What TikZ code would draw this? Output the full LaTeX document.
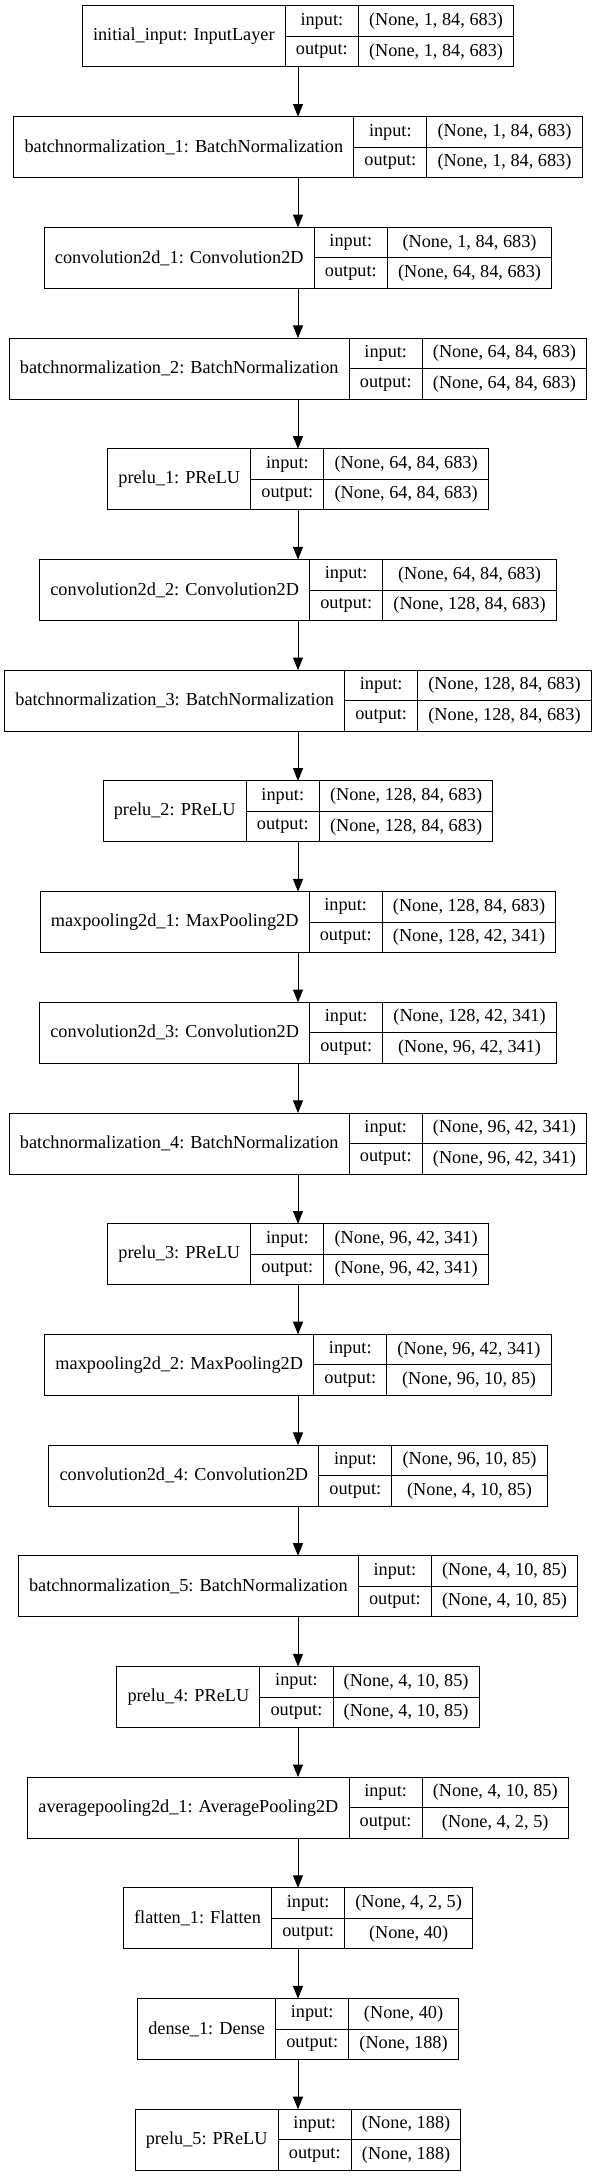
\documentclass[tikz,border=0pt]{standalone}
\usepackage{fontspec}
\setmainfont{Liberation Serif}
\usetikzlibrary{arrows.meta}

\newlength\lblw
\newlength\iow
\newlength\shpw
\newlength\tmpw
\newlength\totw
\newcommand{\layerfont}{\fontsize{13.7pt}{16pt}\selectfont}
\newcommand{\textwd}[2]{\settowidth{#1}{\pgfinterruptpicture\layerfont #2\endpgfinterruptpicture}}

% one layer record: name, top, label, input shape, output shape
\newcommand{\kerasLayer}[5]{%
  \textwd{\lblw}{#3}\addtolength{\lblw}{16pt}%
  \textwd{\iow}{output:}\addtolength{\iow}{16pt}%
  \textwd{\shpw}{#4}%
  \textwd{\tmpw}{#5}%
  \ifdim\tmpw>\shpw \setlength{\shpw}{\tmpw}\fi
  \addtolength{\shpw}{16pt}%
  \setlength{\totw}{\dimexpr\lblw+\iow+\shpw\relax}%
  \node[record, minimum width=\totw, anchor=north] (#1) at (298,#2) {};
  \node[cell, minimum width=\lblw, minimum height=45.75pt, anchor=north west] (#1-name) at (#1.north west) {#3};
  \node[cell, minimum width=\iow, anchor=north west] (#1-in) at (#1-name.north east) {input:};
  \node[cell, minimum width=\iow, anchor=north west] (#1-out) at (#1-in.south west) {output:};
  \node[cell, minimum width=\shpw, anchor=north west] (#1-inshape) at (#1-in.north east) {#4};
  \node[cell, minimum width=\shpw, anchor=north west] (#1-outshape) at (#1-out.north east) {#5};
}

\begin{document}
\begin{tikzpicture}[x=0.75pt, y=-0.75pt,
    record/.style={draw, line width=0.75pt, minimum height=45.75pt, inner sep=0pt, outer sep=0pt},
    cell/.style={draw, line width=0.75pt, minimum height=22.875pt, inner sep=0pt, outer sep=0pt, font=\layerfont},
    edge/.style={line width=0.75pt, -{Triangle[length=9.5pt, width=7.5pt]}}]
  \useasboundingbox (0,0) rectangle (596,2176);

  % Layers
  \foreach \nm/\lbl/\ins/\outs [count=\i from 0] in {
      init/{initial\_input: InputLayer}/{(None, 1, 84, 683)}/{(None, 1, 84, 683)},
      bn1/{batchnormalization\_1: BatchNormalization}/{(None, 1, 84, 683)}/{(None, 1, 84, 683)},
      conv1/{convolution2d\_1: Convolution2D}/{(None, 1, 84, 683)}/{(None, 64, 84, 683)},
      bn2/{batchnormalization\_2: BatchNormalization}/{(None, 64, 84, 683)}/{(None, 64, 84, 683)},
      prelu1/{prelu\_1: PReLU}/{(None, 64, 84, 683)}/{(None, 64, 84, 683)},
      conv2/{convolution2d\_2: Convolution2D}/{(None, 64, 84, 683)}/{(None, 128, 84, 683)},
      bn3/{batchnormalization\_3: BatchNormalization}/{(None, 128, 84, 683)}/{(None, 128, 84, 683)},
      prelu2/{prelu\_2: PReLU}/{(None, 128, 84, 683)}/{(None, 128, 84, 683)},
      pool1/{maxpooling2d\_1: MaxPooling2D}/{(None, 128, 84, 683)}/{(None, 128, 42, 341)},
      conv3/{convolution2d\_3: Convolution2D}/{(None, 128, 42, 341)}/{(None, 96, 42, 341)},
      bn4/{batchnormalization\_4: BatchNormalization}/{(None, 96, 42, 341)}/{(None, 96, 42, 341)},
      prelu3/{prelu\_3: PReLU}/{(None, 96, 42, 341)}/{(None, 96, 42, 341)},
      pool2/{maxpooling2d\_2: MaxPooling2D}/{(None, 96, 42, 341)}/{(None, 96, 10, 85)},
      conv4/{convolution2d\_4: Convolution2D}/{(None, 96, 10, 85)}/{(None, 4, 10, 85)},
      bn5/{batchnormalization\_5: BatchNormalization}/{(None, 4, 10, 85)}/{(None, 4, 10, 85)},
      prelu4/{prelu\_4: PReLU}/{(None, 4, 10, 85)}/{(None, 4, 10, 85)},
      avgpool/{averagepooling2d\_1: AveragePooling2D}/{(None, 4, 10, 85)}/{(None, 4, 2, 5)},
      flatten/{flatten\_1: Flatten}/{(None, 4, 2, 5)}/{(None, 40)},
      dense/{dense\_1: Dense}/{(None, 40)}/{(None, 188)},
      prelu5/{prelu\_5: PReLU}/{(None, 188)}/{(None, 188)}}
  {
    \pgfmathsetmacro{\top}{6+110.7*\i}
    \kerasLayer{\nm}{\top}{\lbl}{\ins}{\outs}
  }

  % Arrows
  \foreach \a/\b in {init/bn1, bn1/conv1, conv1/bn2, bn2/prelu1, prelu1/conv2,
      conv2/bn3, bn3/prelu2, prelu2/pool1, pool1/conv3, conv3/bn4, bn4/prelu3,
      prelu3/pool2, pool2/conv4, conv4/bn5, bn5/prelu4, prelu4/avgpool,
      avgpool/flatten, flatten/dense, dense/prelu5}
    \draw[edge] (\a.south) -- (\b.north);
\end{tikzpicture}
\end{document}
